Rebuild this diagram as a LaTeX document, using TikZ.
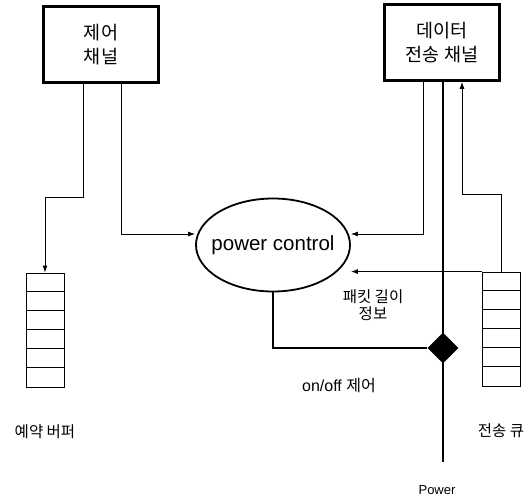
\documentclass[tikz,border=0pt]{standalone}
\usepackage{fontspec}
\setmainfont{Liberation Sans}
\newfontfamily\kr{Noto Sans CJK KR}
\usetikzlibrary{arrows.meta, positioning, shapes.geometric, calc}
\tikzset{
	chan/.style={rectangle, draw, line width=2.6pt, minimum width=115pt, minimum height=76pt, align=center, font=\kr\fontsize{18.5}{24}\selectfont},
	ctrl/.style={ellipse, draw, line width=1.8pt, minimum width=154pt, minimum height=93pt, inner sep=0pt},
	queue/.style={rectangle, draw, line width=0.9pt, minimum width=38pt, minimum height=114pt, inner sep=0pt},
	lbl/.style={align=center, font=\kr\fontsize{15.5}{17}\selectfont},
	arrow/.style={-{Latex[length=7pt, width=5pt]}, line width=0.9pt},
	power/.style={line width=2.4pt},
	switch/.style={diamond, fill=black, minimum size=31pt, inner sep=0pt},
}
\begin{document}
\begin{tikzpicture}[x=1pt, y=-1pt]
	\useasboundingbox (0,0) rectangle (526,500);
	% channels and controller
	\node[chan] (cch) at (101,44.5) {제어\\채널};
	\node[chan] (dch) at (442,42.5) {데이터\\전송 채널};
	\node[ctrl, label={[font=\fontsize{20.5}{24}\selectfont]center:power control}] (pc) at (273,245) {};
	% queues
	\node[queue] (resbuf) at (45,330) {};
	\node[queue] (txq) at (501,329) {};
	\foreach \i in {1,...,5} {
		\draw[line width=0.9pt] (resbuf.north west) ++(0,\i*19) -- ++(38,0);
		\draw[line width=0.9pt] (txq.north west) ++(0,\i*19) -- ++(38,0);
	}
	\node[lbl, below=34pt of resbuf] (resbuflbl) {예약 버퍼};
	\node[lbl, below=34pt of txq] (txqlbl) {전송 큐};
	% power line
	\coordinate (pend) at (443,462);
	\draw[power] ([xshift=1pt]dch.south) -- (pend);
	\node[font=\fontsize{13}{16}\selectfont] (pwrlbl) at (437,490) {Power};
	\node[switch] (sw) at (443,348) {};
	\draw[power] (pc.south) |- (sw.west);
	% connectors
	\draw[arrow] ([xshift=-18pt]cch.south) -- ++(0,114) -| (resbuf.north);
	\draw[arrow] ([xshift=20pt]cch.south) |- ([yshift=11pt]pc.west);
	\draw[arrow] ([xshift=-19pt]dch.south) |- ([yshift=11pt]pc.east);
	\draw[arrow] (txq.north) -- ++(0,-77) -| ([xshift=20pt]dch.south);
	\draw[arrow] (txq.north west) -- (txq.north west -| pc.east);
	% labels
	\node[lbl] (pktlbl) at (373,305) {패킷 길이\\정보};
	\node[lbl, font=\fontsize{16}{18}\selectfont] (swlbl) at (339,386) {on/off {\kr 제어}};
\end{tikzpicture}
\end{document}
